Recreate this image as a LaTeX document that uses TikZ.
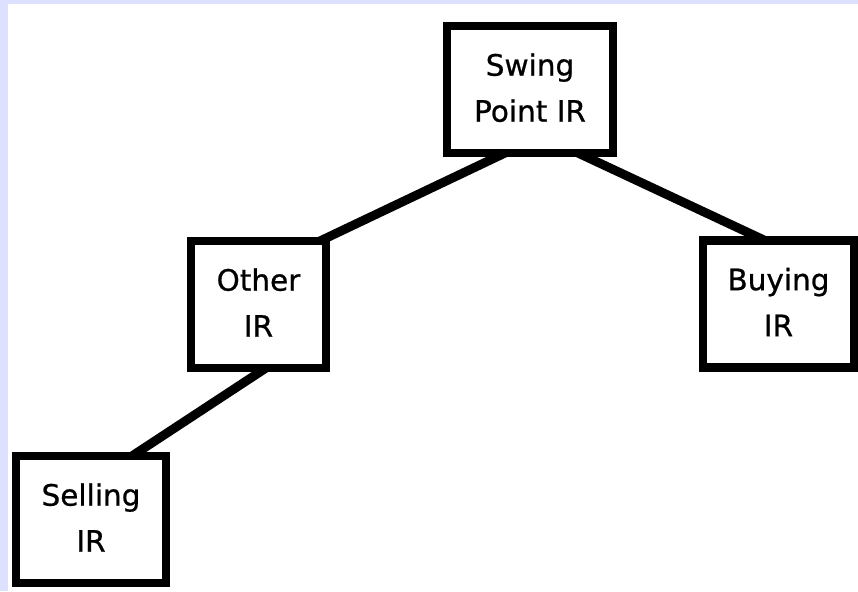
\documentclass[tikz,border=0pt]{standalone}
\usepackage{fontspec}
\setmainfont{DejaVu Sans}
\newfontfamily\boxfont{DejaVu Sans}[FakeBold=0.7]
\usetikzlibrary{calc}
\definecolor{frameblue}{RGB}{221,224,255}
% two centred lines of box text, set a little above the box centre
\newcommand{\boxlines}[2]{\raisebox{5pt}{\begin{tabular}{@{}c@{}}#1\\#2\end{tabular}}}
\tikzset{
  irbox/.style={draw=black, line width=8.5pt, fill=white, rectangle, outer sep=0pt,
    inner sep=0pt, minimum height=127pt,
    font=\boxfont\fontsize{29.5}{46}\selectfont},
  link/.style={draw=black, line width=9pt, line cap=butt}
}
\begin{document}
\begin{tikzpicture}[x=1pt, y=-1pt]
  % page frame: lavender band along the top and left edges
  \fill[frameblue] (0,0) rectangle (858,591);
  \fill[white] (8,4) rectangle (858,591);
  \useasboundingbox (0,0) rectangle (858,591);

  \node[irbox, minimum width=166pt] (swing) at (530,89.5) {\boxlines{Swing}{Point IR}};
  \node[irbox, minimum width=135pt] (other) at (258.5,304.5) {\boxlines{Other}{IR}};
  \node[irbox, minimum width=151pt] (buying) at (778.5,304) {\boxlines{Buying}{IR}};
  \node[irbox, minimum width=150pt] (selling) at (91,519.5) {\boxlines{Selling}{IR}};

  \draw[link] ($(swing.south)+(-25,0)$) -- ($(other.north east)+(-6,0)$);
  \draw[link] ($(swing.south)+(48,0)$) -- ($(buying.north west)+(62,0)$);
  \draw[link] ($(other.south)+(7.5,0)$) -- ($(selling.north)+(41,0)$);
\end{tikzpicture}
\end{document}
